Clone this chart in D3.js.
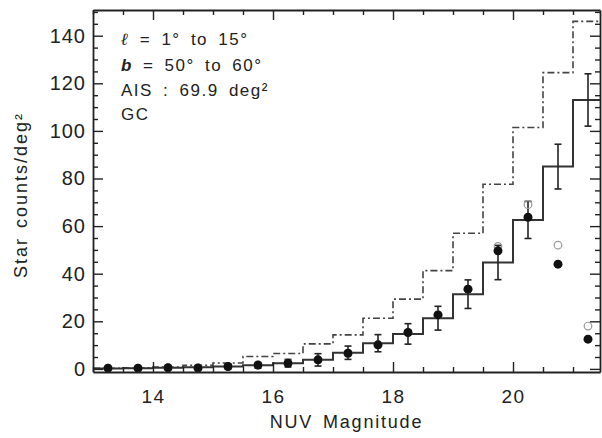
<!DOCTYPE html>
<html>
<head>
<meta charset="utf-8">
<script src="https://cdn.jsdelivr.net/npm/d3@7/dist/d3.min.js"></script>
<style>
  html, body { margin: 0; padding: 0; background: #fff; }
  svg { display: block; }
  text { font-family: "Liberation Sans", Arial, sans-serif; fill: #222; }
</style>
</head>
<body>
<svg id="chart" width="602" height="438"></svg>
<script>
// ---- data ----
const binCenters = [13.25, 13.75, 14.25, 14.75, 15.25, 15.75, 16.25, 16.75, 17.25, 17.75, 18.25, 18.75, 19.25, 19.75, 20.25, 20.75, 21.25];
const modelGC    = [0.2, 0.3, 0.5, 0.7, 1.0, 1.5, 2.4, 3.8, 6.8, 10.8, 14.7, 21.3, 31.4, 44.7, 62.6, 85, 113];
const modelErr   = [0.3, 0.4, 0.5, 0.7, 0.9, 1.2, 1.6, 2.6, 2.8, 3.6, 4.3, 5, 6, 7.2, 7.8, 9.4, 11];
const modelAlt   = [0.3, 0.5, 0.8, 1.5, 2.5, 5.2, 6.5, 10.5, 14.3, 21.3, 29.3, 41.3, 57, 77.6, 101.4, 124.5, 146];
const obsFilled  = [0.3, 0.3, 0.5, 0.4, 1.0, 1.6, 2.4, 3.8, 6.6, 10.1, 15.3, 22.7, 33.5, 49.6, 63.7, 44, 12.5];
const obsOpen    = [0.3, 0.3, 0.5, 0.4, 1.0, 1.6, 2.4, 3.8, 6.6, 10.1, 15.3, 22.7, 33.5, 51.5, 69, 52, 18];
const binWidth = 0.5;
const xMajorTicks = [14, 16, 18, 20];
const yMajorTicks = [0, 20, 40, 60, 80, 100, 120, 140];
const annotations = ["= 1° to 15°", "= 50° to 60°", "AIS : 69.9 deg²", "GC"];

// ---- layout ----
const svg = d3.select("#chart");
const L = 93, R = 600, T = 10, B = 372;
const x = d3.scaleLinear().domain([13, 21.45]).range([L, R]);
const y = d3.scaleLinear().domain([-1.3, 150.8]).range([B, T]);

svg.append("defs").append("clipPath").attr("id", "clip")
  .append("rect").attr("x", L).attr("y", T).attr("width", R - L).attr("height", B - T);

const plot = svg.append("g").attr("clip-path", "url(#clip)");

// step histograms
function stepPoints(vals) {
  const pts = binCenters.map((c, i) => [c - binWidth / 2, vals[i]]);
  pts.push([binCenters[binCenters.length - 1] + binWidth / 2, vals[vals.length - 1]]);
  return pts;
}
const stepLine = d3.line().x(d => x(d[0])).y(d => y(d[1])).curve(d3.curveStepAfter);

plot.append("path").datum(stepPoints(modelAlt))
  .attr("d", stepLine).attr("fill", "none").attr("stroke", "#444")
  .attr("stroke-width", 1.6).attr("stroke-dasharray", "7,3,2,3");

plot.append("path").datum(stepPoints(modelGC))
  .attr("d", stepLine).attr("fill", "none").attr("stroke", "#333")
  .attr("stroke-width", 2);

// error bars on model
const eb = plot.append("g").attr("stroke", "#222").attr("stroke-width", 1.6);
binCenters.forEach((c, i) => {
  const cx = x(c), y1 = y(modelGC[i] + modelErr[i]), y2 = y(modelGC[i] - modelErr[i]);
  eb.append("line").attr("x1", cx).attr("x2", cx).attr("y1", y1).attr("y2", y2);
  eb.append("line").attr("x1", cx - 3.5).attr("x2", cx + 3.5).attr("y1", y1).attr("y2", y1);
  eb.append("line").attr("x1", cx - 3.5).attr("x2", cx + 3.5).attr("y1", y2).attr("y2", y2);
});

// open circles
plot.append("g").selectAll("circle").data(binCenters).join("circle")
  .attr("cx", d => x(d)).attr("cy", (d, i) => y(obsOpen[i])).attr("r", 3.8)
  .attr("fill", "none").attr("stroke", "#999").attr("stroke-width", 1.2);

// filled circles
plot.append("g").selectAll("circle").data(binCenters).join("circle")
  .attr("cx", d => x(d)).attr("cy", (d, i) => y(obsFilled[i])).attr("r", 4.5)
  .attr("fill", "#111");

// ---- axes ----
const xMinor = d3.range(13, 21.5, 0.5).filter(v => !xMajorTicks.includes(v));
const yMinor = d3.range(0, 151, 5).filter(v => !yMajorTicks.includes(v));

function styleAxis(g) {
  g.select(".domain").attr("stroke", "#222").attr("stroke-width", 1.8);
  g.selectAll(".tick line").attr("stroke", "#222").attr("stroke-width", 1.4);
}

// bottom
const gb = svg.append("g").attr("transform", `translate(0,${B})`)
  .call(d3.axisBottom(x).tickValues(xMajorTicks).tickSizeInner(-10).tickSizeOuter(0).tickPadding(18).tickFormat(d3.format("d")));
gb.selectAll(".tick text").attr("font-size", 19).attr("letter-spacing", 1.5).attr("fill", "#333");
styleAxis(gb);
const gbm = svg.append("g").attr("transform", `translate(0,${B})`)
  .call(d3.axisBottom(x).tickValues(xMinor).tickSizeInner(-5).tickSizeOuter(0).tickFormat(""));
gbm.select(".domain").remove(); styleAxis(gbm);

// top
const gt = svg.append("g").attr("transform", `translate(0,${T})`)
  .call(d3.axisTop(x).tickValues(xMajorTicks).tickSizeInner(-10).tickSizeOuter(0).tickFormat(""));
styleAxis(gt);
const gtm = svg.append("g").attr("transform", `translate(0,${T})`)
  .call(d3.axisTop(x).tickValues(xMinor).tickSizeInner(-5).tickSizeOuter(0).tickFormat(""));
gtm.select(".domain").remove(); styleAxis(gtm);

// left
const gl = svg.append("g").attr("transform", `translate(${L},0)`)
  .call(d3.axisLeft(y).tickValues(yMajorTicks).tickSizeInner(-10).tickSizeOuter(0).tickPadding(7).tickFormat(d3.format("d")));
gl.selectAll(".tick text").attr("font-size", 20).attr("letter-spacing", 1).attr("fill", "#333");
styleAxis(gl);
const glm = svg.append("g").attr("transform", `translate(${L},0)`)
  .call(d3.axisLeft(y).tickValues(yMinor).tickSizeInner(-5).tickSizeOuter(0).tickFormat(""));
glm.select(".domain").remove(); styleAxis(glm);

// right
const gr = svg.append("g").attr("transform", `translate(${R},0)`)
  .call(d3.axisRight(y).tickValues(yMajorTicks).tickSizeInner(-10).tickSizeOuter(0).tickFormat(""));
styleAxis(gr);
const grm = svg.append("g").attr("transform", `translate(${R},0)`)
  .call(d3.axisRight(y).tickValues(yMinor).tickSizeInner(-5).tickSizeOuter(0).tickFormat(""));
grm.select(".domain").remove(); styleAxis(grm);

// axis titles
svg.append("text").attr("x", (L + R) / 2).attr("y", 428).attr("text-anchor", "middle")
  .attr("font-size", 18).attr("letter-spacing", 1.8).attr("word-spacing", 3).attr("fill", "#333")
  .text("NUV Magnitude");
svg.append("text").attr("transform", `translate(27,${(T + B) / 2 + 4}) rotate(-90)`)
  .attr("text-anchor", "middle").attr("font-size", 18).attr("letter-spacing", 2).attr("word-spacing", 2)
  .attr("fill", "#333").text("Star counts/deg²");

// annotations
const ann = svg.append("g").attr("font-size", 17).attr("letter-spacing", 1.5).attr("word-spacing", 4).attr("fill", "#333");
const t1 = ann.append("text").attr("x", 121).attr("y", 45).attr("fill", "#333");
t1.append("tspan").attr("font-family", "DejaVu Serif").attr("font-style", "italic").attr("font-weight", "bold").text("ℓ");
t1.append("tspan").attr("dx", 10).text(annotations[0]);
const t2 = ann.append("text").attr("x", 121).attr("y", 71).attr("fill", "#333");
t2.append("tspan").attr("font-style", "italic").attr("font-weight", "bold").text("b");
t2.append("tspan").attr("dx", 10).text(annotations[1]);
ann.append("text").attr("x", 121).attr("y", 96).attr("fill", "#333").text(annotations[2]);
ann.append("text").attr("x", 121).attr("y", 120).attr("fill", "#333").text(annotations[3]);
</script>
</body>
</html>
